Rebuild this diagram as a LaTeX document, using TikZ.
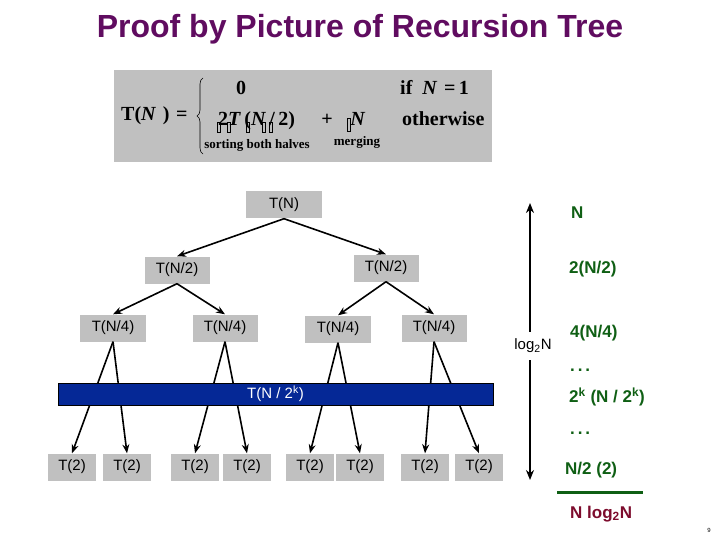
\documentclass[tikz,border=0pt]{standalone}
\usepackage{fontspec}
\setmainfont{Liberation Sans}
\newfontfamily\tms{Liberation Serif}
\usetikzlibrary{arrows.meta,decorations.pathreplacing}
\definecolor{gbox}{RGB}{192,192,192}
\definecolor{ttl}{RGB}{96,12,96}
\definecolor{grn}{RGB}{15,95,20}
\definecolor{mar}{RGB}{125,12,45}
\definecolor{barblue}{RGB}{5,40,150}
\begin{document}
\begin{tikzpicture}[x=1pt,y=-1pt,
  box/.style={fill=gbox, minimum height=27pt, inner sep=0pt, font=\fontsize{15}{15}\selectfont},
  arr/.style={line width=1.6pt, -{Stealth[length=9pt,width=7pt]}},
  frm/.style={font=\tms\fontsize{20}{20}\selectfont\bfseries, inner sep=0pt},
  frs/.style={font=\tms\fontsize{13}{13}\selectfont\bfseries, inner sep=0pt},
  sumtxt/.style={font=\fontsize{17}{17}\selectfont\bfseries, text=grn, anchor=west, inner sep=0pt},
  glitch/.style={draw=black, line width=0.4pt}
]
\useasboundingbox (0,0) rectangle (720,540);
% title
\node[font=\fontsize{32}{32}\selectfont\bfseries, text=ttl, anchor=base, inner sep=0pt] (title) at (360,38) {Proof by Picture of Recursion Tree};
% formula box
\node[fill=gbox, minimum width=378pt, minimum height=92pt, anchor=north west, inner sep=0pt] (fbox) at (114,70) {};
\node[frm, anchor=base west] (ftn) at (121,121) {T(\textit{N}\,\,)\,\,=};
\draw[line width=0.6pt, decorate, decoration={brace, amplitude=6pt}] (203,154) -- (203,78);
\node[frm, anchor=base] (fzero) at (241,95) {0};
\node[frm, anchor=base west] (fif) at (400,95) {if \ \textit{N}\,\,=\,1};
\node[frm, anchor=base west] (frec) at (218,126) {2\textit{T}\,(\textit{N}\,/\,2)};
\node[frm, anchor=base] (fplus) at (327,126) {+};
\node[frm, anchor=base] (fn) at (358,126) {\textit{N}};
\node[frm, anchor=base west] (fother) at (402,126) {otherwise};
\node[frs, anchor=base] (fsort) at (257,149) {sorting both halves};
\node[frs, anchor=base] (fmerge) at (357,146) {merging};
\foreach \gx in {219,229,248,264,271}{
  \draw[glitch] (\gx-1.5,122) rectangle (\gx+1.5,132);
}
\draw[glitch] (347.5,118) rectangle (350.5,131);
% tree
\node[box, minimum width=76pt] (r) at (284,205) {T(N)};
\node[box, minimum width=65pt] (a) at (177,270) {T(N/2)};
\node[box, minimum width=65pt] (b) at (386,268) {T(N/2)};
\node[box, minimum width=66pt] (c1) at (113,328) {T(N/4)};
\node[box, minimum width=65pt] (c2) at (225,328) {T(N/4)};
\node[box, minimum width=66pt] (c3) at (338,329) {T(N/4)};
\node[box, minimum width=65pt] (c4) at (434,328) {T(N/4)};
\foreach \i/\x in {1/72,2/127,3/195,4/247,5/310,6/360,7/425,8/479}{
  \node[box, minimum width=48pt] (t\i) at (\x,467) {T(2)};
}
\draw[arr] (r.south) -- (a.north);
\draw[arr] (r.south) -- (b.north);
\draw[arr] (a.south) -- (c1.north);
\draw[arr] (a.south) -- (c2.north);
\draw[arr] (b.south) -- (c3.north);
\draw[arr] (b.south) -- (c4.north);
\draw[arr] (c1.south) -- (t1.north);
\draw[arr] (c1.south) -- (t2.north);
\draw[arr] (c2.south) -- (t3.north);
\draw[arr] (c2.south) -- (t4.north);
\draw[arr] (c3.south) -- (t5.north);
\draw[arr] (c3.south) -- (t6.north);
\draw[arr] (c4.south) -- (t7.north);
\draw[arr] (c4.south) -- (t8.north);
% blue bar
\node[fill=barblue, draw=black, line width=1pt, minimum width=435pt, minimum height=22pt, inner sep=0pt, text=white, font=\fontsize{15}{15}\selectfont] (bar) at (275.5,394) {T(N / 2\textsuperscript{k})};
% vertical arrow
\node[font=\fontsize{15}{15}\selectfont, inner sep=0pt, minimum height=28pt] (lg) at (533,346) {log\textsubscript{2}N};
\coordinate (vtop) at (530,203);
\coordinate (vbot) at (530,480);
\draw[line width=2.4pt, -{Stealth[length=10pt,width=8pt]}] (lg.north -| vtop) -- (vtop);
\draw[line width=2.4pt, -{Stealth[length=10pt,width=8pt]}] (lg.south -| vbot) -- (vbot);
% sums
\node[sumtxt] (s1) at (571,213) {N};
\node[sumtxt] (s2) at (569,269) {2(N/2)};
\node[sumtxt] (s3) at (570,333) {4(N/4)};
\node[sumtxt] (s4) at (570,370) {.\,.\,.};
\node[sumtxt] (s5) at (569,397) {2\textsuperscript{k} (N / 2\textsuperscript{k})};
\node[sumtxt] (s6) at (570,433) {.\,.\,.};
\node[sumtxt] (s7) at (565,470) {N/2 (2)};
\coordinate (la) at (557,492);
\coordinate (lb) at (643,492);
\draw[grn, line width=3pt] (la) -- (lb);
\node[sumtxt, text=mar] (s8) at (570,514) {N log\textsubscript{2}N};
\node[font=\fontsize{6}{6}\selectfont, inner sep=0pt] (pg) at (709,530) {9};
\end{tikzpicture}
\end{document}
